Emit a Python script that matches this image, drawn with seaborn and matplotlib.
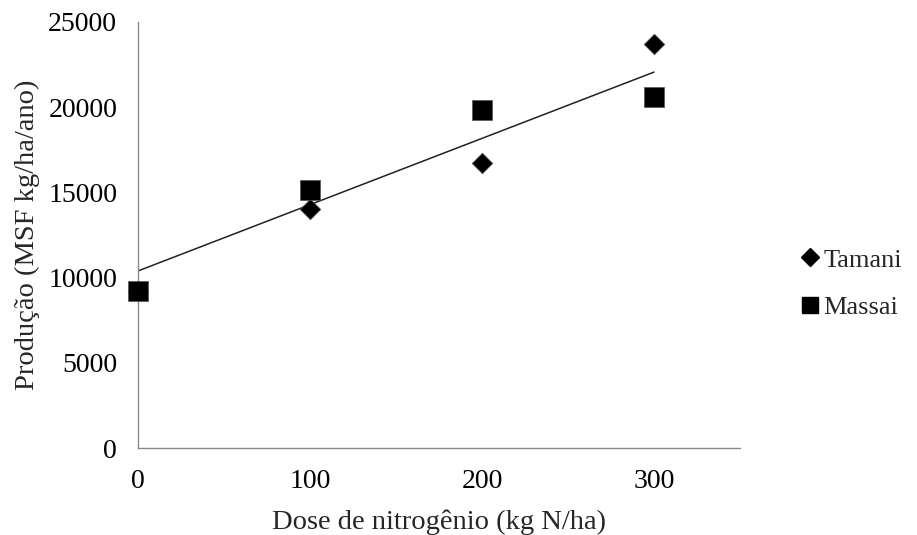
import pandas as pd
import matplotlib
matplotlib.use("Agg")
import matplotlib.pyplot as plt
from matplotlib.lines import Line2D
import seaborn as sns

# Dados
doses = [0, 100, 200, 300]
tamani = [9200, 14020, 16720, 23700]
massai = [9200, 15140, 19830, 20600]

# Linha de tendencia (extremos)
tend_x = [0, 300]
tend_y = [10390, 22060]

df = pd.DataFrame({
    "Dose": doses * 2,
    "Producao": tamani + massai,
    "Cultivar": ["Tamani"] * 4 + ["Massai"] * 4,
})
df_tend = pd.DataFrame({"Dose": tend_x, "Producao": tend_y})

sns.set_style("white")
plt.rcParams["font.family"] = ["Liberation Serif", "DejaVu Serif"]

fig = plt.figure(figsize=(9.17, 5.35), dpi=100)
ax = fig.add_axes([0.1505, 0.1626, 0.807 - 0.1505, 0.9589 - 0.1626])

sns.lineplot(data=df_tend, x="Dose", y="Producao", color="#222222", lw=1.1, ax=ax)
# Tamani primeiro; Massai fica por cima (no ponto 0 so aparece o quadrado)
sns.scatterplot(data=df[df.Cultivar == "Tamani"], x="Dose", y="Producao", marker="D",
                s=110, color="black", edgecolor="#555555", linewidth=0.5, ax=ax,
                zorder=3, clip_on=False)
sns.scatterplot(data=df[df.Cultivar == "Massai"], x="Dose", y="Producao", marker="s",
                s=190, color="black", edgecolor="#555555", linewidth=0.5, ax=ax,
                zorder=4, clip_on=False)

ax.set_xlim(0, 350)
ax.set_ylim(0, 25000)
ax.set_xticks([0, 100, 200, 300])
ax.set_yticks([0, 5000, 10000, 15000, 20000, 25000])

for s in ["top", "right"]:
    ax.spines[s].set_visible(False)
for s in ["left", "bottom"]:
    ax.spines[s].set_color("#8a8a8a")
    ax.spines[s].set_linewidth(1)
ax.tick_params(axis="both", direction="out", length=7, width=1, color="#8a8a8a",
               labelsize=20, labelcolor="black")
ax.tick_params(axis="y", pad=8)
ax.tick_params(axis="x", pad=8)

ax.set_xlabel("Dose de nitrogênio (kg N/ha)", fontsize=20.5, labelpad=11)
ax.set_ylabel("Produção (MSF kg/ha/ano)", fontsize=20.5, labelpad=6)

handles = [
    Line2D([], [], marker="D", color="black", ls="none", markersize=9),
    Line2D([], [], marker="s", color="black", ls="none", markersize=12),
]
fig.legend(handles, ["Tamani", "Massai"], loc="center left", bbox_to_anchor=(0.843, 0.47),
           frameon=False, fontsize=19, handletextpad=0.0, labelspacing=0.9,
           handlelength=1.0)

fig.savefig("out.png", dpi=100)
